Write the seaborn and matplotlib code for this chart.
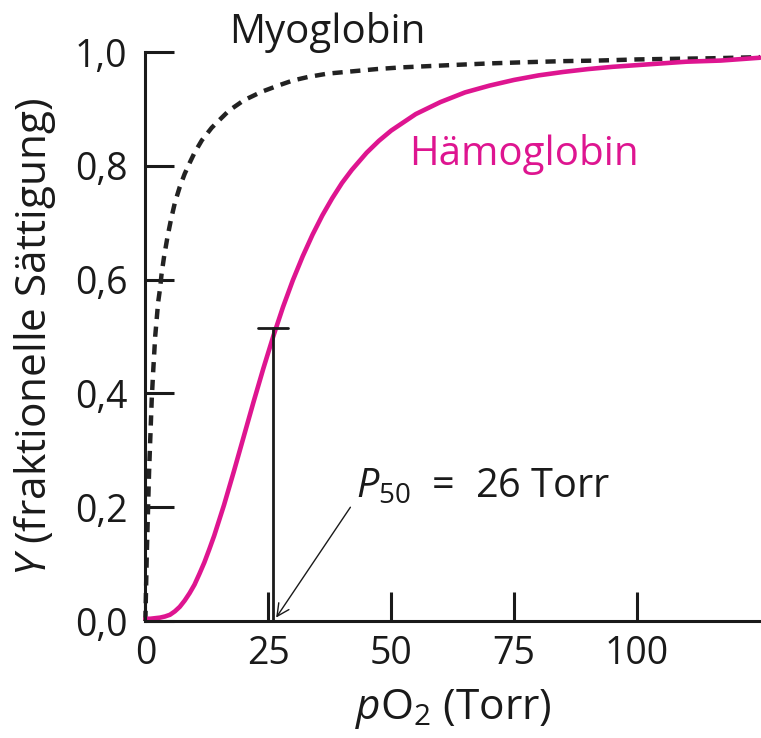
import matplotlib
matplotlib.use("Agg")
import matplotlib.pyplot as plt
import seaborn as sns
import pandas as pd

# ---- data ----
hb_po2 = [0, 1, 2, 3, 4, 5, 6, 7, 8, 9, 10, 11, 12, 13, 14, 15, 16, 18, 20, 22,
          24, 26, 28, 30, 32, 34, 36, 38, 40, 42, 45, 47.5, 50, 55, 60, 65, 70,
          75, 80, 85, 90, 95, 100, 110, 117, 125]
hb_sat = [0.004, 0.004, 0.005, 0.006, 0.008, 0.011, 0.017, 0.025, 0.036, 0.049,
          0.064, 0.083, 0.103, 0.126, 0.150, 0.177, 0.204, 0.263, 0.324, 0.385,
          0.444, 0.500, 0.552, 0.599, 0.641, 0.679, 0.713, 0.743, 0.770, 0.793,
          0.823, 0.844, 0.862, 0.891, 0.912, 0.929, 0.941, 0.951, 0.959, 0.965,
          0.970, 0.974, 0.977, 0.983, 0.985, 0.990]

mb_po2 = [0, 0.3, 0.75, 1.0, 1.3, 1.6, 2, 2.3, 2.6, 3.0, 3.3, 3.8, 4.5, 5.2, 6,
          7, 8, 9, 10, 11.5, 13.5, 15, 17, 20, 23.6, 27, 30, 33, 37, 42, 47, 52,
          57, 62, 70, 77, 85, 92, 100, 107, 115, 120, 125]
mb_sat = [0.0, 0.12, 0.26, 0.32, 0.39, 0.44, 0.50, 0.53, 0.56, 0.585, 0.61,
          0.64, 0.675, 0.705, 0.735, 0.763, 0.786, 0.805, 0.823, 0.845, 0.867,
          0.88, 0.897, 0.915, 0.93, 0.941, 0.95, 0.956, 0.962, 0.966, 0.970,
          0.973, 0.975, 0.977, 0.980, 0.982, 0.984, 0.985, 0.987, 0.988, 0.989,
          0.990, 0.991]

p50 = 26
p50_sat = 0.515
p50_cap = 3

x_ticks = [0, 25, 50, 75, 100]
x_ticklabels = ["0", "25", "50", "75", "100"]
y_ticks = [0.0, 0.2, 0.4, 0.6, 0.8, 1.0]
y_ticklabels = ["0,0", "0,2", "0,4", "0,6", "0,8", "1,0"]

HB_COLOR = "#DE1590"
INK = "#1a1a1a"

sns.set_style("ticks")
plt.rcParams["font.family"] = ["Open Sans", "DejaVu Sans"]
plt.rcParams["mathtext.fontset"] = "custom"
plt.rcParams["mathtext.rm"] = "Open Sans"
plt.rcParams["mathtext.it"] = "Open Sans:italic"

FS = 27

fig = plt.figure(figsize=(7.61, 7.38), dpi=100)
ax = fig.add_axes([0.191, 0.1585, 0.809, 0.771])

hb = pd.DataFrame({"pO2": hb_po2, "Y": hb_sat})
mb = pd.DataFrame({"pO2": mb_po2, "Y": mb_sat})

sns.lineplot(data=mb, x="pO2", y="Y", ax=ax, color="#222222", lw=3.2,
             linestyle=(0, (2.3, 1.7)), clip_on=False)
sns.lineplot(data=hb, x="pO2", y="Y", ax=ax, color=HB_COLOR, lw=3.3, clip_on=False)

# P50 marker
ax.plot([p50, p50], [0, p50_sat], color=INK, lw=2)
ax.plot([p50 - p50_cap, p50 + p50_cap], [p50_sat, p50_sat], color=INK, lw=2)
ax.annotate("", xy=(p50 + 0.6, 0.006), xytext=(41.7, 0.20),
            arrowprops=dict(arrowstyle="->", lw=1.0, color=INK,
                            shrinkA=0, shrinkB=0, mutation_scale=22))
ax.text(42.9, 0.217, r"$P_{50}$  =  26 Torr", fontsize=28.5, color=INK,
        ha="left", va="baseline")

ax.text(37, 1.035, "Myoglobin", fontsize=29, color=INK, ha="center",
        va="center")
ax.text(77, 0.82, "Hämoglobin", fontsize=29, color=HB_COLOR, ha="center",
        va="center")

ax.set_xlim(0, 125.2)
ax.set_ylim(0, 1.0)
ax.set_xticks(x_ticks)
ax.set_xticklabels(x_ticklabels)
ax.set_yticks(y_ticks)
ax.set_yticklabels(y_ticklabels)
ax.tick_params(axis="both", direction="in", length=21, width=2.2,
               labelsize=FS, colors=INK)
ax.tick_params(axis="y", pad=13)
ax.tick_params(axis="x", pad=10)
sns.despine(ax=ax)
for s in ["left", "bottom"]:
    ax.spines[s].set_linewidth(2.2)
    ax.spines[s].set_color(INK)

ax.set_xlabel(r"$p$O$_2$ (Torr)", fontsize=30.5, color=INK, labelpad=10)
ax.set_ylabel(r"$Y$ (fraktionelle Sättigung)", fontsize=30.5, color=INK,
              labelpad=12)

fig.savefig("out.png", dpi=100)
